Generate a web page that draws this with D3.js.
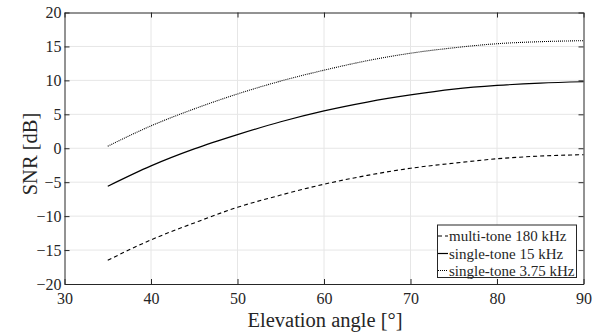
<!DOCTYPE html>
<html><head><meta charset="utf-8">
<script src="https://cdn.jsdelivr.net/npm/d3@7"></script>
</head><body style="margin:0;background:#fff"><svg id="c" width="599" height="335" style="display:block"></svg>
<script>
const angles = [35,40,45,50,55,60,65,70,75,80,85,90];
const multiTone180 = [-16.5,-13.5,-11.0,-8.7,-6.9,-5.3,-4.0,-2.95,-2.2,-1.55,-1.15,-0.95];
const singleTone15 = [-5.6,-2.6,-0.1,2.0,3.9,5.5,6.8,7.85,8.7,9.25,9.6,9.8];
const singleTone375 = [0.3,3.3,5.8,8.0,9.9,11.5,12.9,14.0,14.8,15.4,15.7,15.85];
const seriesNames = ["multi-tone 180 kHz","single-tone 15 kHz","single-tone 3.75 kHz"];
const xTicks = [30,40,50,60,70,80,90];
const yTicks = [-20,-15,-10,-5,0,5,10,15,20];

const FONT = "'Liberation Serif'";
const svg = d3.select("#c");
const L=64.5, R=583.5, T=12.5, B=284;
const x = d3.scaleLinear().domain([30,90]).range([L,R]);
const y = d3.scaleLinear().domain([-20,20]).range([B,T]);

// grid
svg.append("g").selectAll("line").data(xTicks.slice(1,-1)).join("line")
  .attr("x1",d=>x(d)).attr("x2",d=>x(d)).attr("y1",T).attr("y2",B)
  .attr("stroke","#e6e6e6").attr("stroke-width",1);
svg.append("g").selectAll("line").data(yTicks.slice(1,-1)).join("line")
  .attr("y1",d=>y(d)).attr("y2",d=>y(d)).attr("x1",L).attr("x2",R)
  .attr("stroke","#e6e6e6").attr("stroke-width",1);

// axes
const xb = svg.append("g").attr("transform",`translate(0,${B})`).call(d3.axisBottom(x).tickValues(xTicks).tickSizeInner(-5).tickSizeOuter(0).tickPadding(9));
const xt = svg.append("g").attr("transform",`translate(0,${T})`).call(d3.axisTop(x).tickValues(xTicks).tickSizeInner(-5).tickSizeOuter(0).tickFormat(""));
const yl = svg.append("g").attr("transform",`translate(${L},0)`).call(d3.axisLeft(y).tickValues(yTicks).tickSizeInner(-5).tickSizeOuter(0).tickPadding(3));
const yr = svg.append("g").attr("transform",`translate(${R},0)`).call(d3.axisRight(y).tickValues(yTicks).tickSizeInner(-5).tickSizeOuter(0).tickFormat(""));
[xb,xt,yl,yr].forEach(g=>{
  g.attr("font-family",null).attr("font-size",null);
  g.select(".domain").attr("stroke","#262626").attr("stroke-width",1);
  g.selectAll(".tick line").attr("stroke","#262626");
  g.selectAll("text").style("font-family",FONT).style("font-size","16px").style("fill","#262626");
});
xb.selectAll("text").attr("dy","0.71em");

// lines
const styles = [
  {dash:"4,3", w:1.1},
  {dash:null, w:1.2},
  {dash:"1,1", w:1.1}
];
const data = [multiTone180, singleTone15, singleTone375];
const line = d3.line().x((d,i)=>x(angles[i])).y(d=>y(d)).curve(d3.curveMonotoneX);
data.forEach((s,k)=>{
  svg.append("path").datum(s).attr("d",line).attr("fill","none")
    .attr("stroke","#000").attr("stroke-width",styles[k].w)
    .attr("stroke-dasharray",styles[k].dash);
});

// labels
svg.append("text").attr("x",325).attr("y",327).attr("text-anchor","middle")
  .style("font-family",FONT).style("font-size","20.5px").style("fill","#262626").text("Elevation angle [°]");
svg.append("text").attr("transform","translate(37,154) rotate(-90)").attr("text-anchor","middle")
  .style("font-family",FONT).style("font-size","20.5px").style("fill","#262626").text("SNR [dB]");

// legend
const lg = svg.append("g");
lg.append("rect").attr("x",437.5).attr("y",225).attr("width",139).attr("height",52.5)
  .attr("fill","#fff").attr("stroke","#262626").attr("stroke-width",1);
const rowsY = [236,253.5,270.5];
seriesNames.forEach((n,k)=>{
  lg.append("line").attr("x1",438).attr("x2",448).attr("y1",rowsY[k]).attr("y2",rowsY[k])
    .attr("stroke","#000").attr("stroke-width",styles[k].w).attr("stroke-dasharray",styles[k].dash);
  lg.append("text").attr("x",449).attr("y",rowsY[k]).attr("dy","0.35em")
    .style("font-family",FONT).style("font-size","15px").style("fill","#262626").text(n);
});
</script></body></html>
